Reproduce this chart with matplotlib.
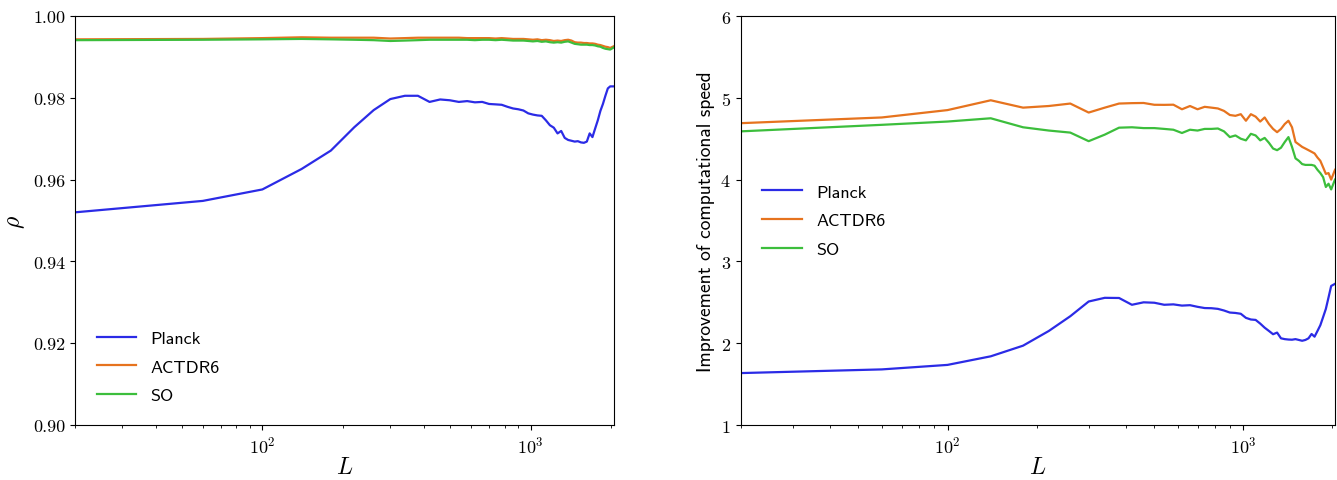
import matplotlib
matplotlib.use('Agg')
import matplotlib.pyplot as plt

plt.rcParams['font.family'] = 'serif'
plt.rcParams['font.serif'] = ['cmr10']
plt.rcParams['mathtext.fontset'] = 'cm'
plt.rcParams['axes.formatter.use_mathtext'] = True

# multipole bins
L = [20, 60, 100, 140, 180, 220, 260, 300, 340, 380,
     420, 460, 500, 540, 580, 620, 660, 700, 740, 780,
     820, 860, 900, 940, 980, 1020, 1060, 1100, 1140, 1180,
     1220, 1260, 1300, 1340, 1380, 1420, 1460, 1500, 1540, 1580,
     1620, 1660, 1700, 1740, 1780, 1820, 1860, 1900, 1940, 1980, 2040]

# correlation coefficient rho
rho_planck = [0.9520, 0.9548, 0.9576, 0.9626, 0.9671, 0.9728, 0.9770, 0.9797, 0.9805, 0.9805,
              0.9790, 0.9796, 0.9794, 0.9790, 0.9792, 0.9789, 0.9790, 0.9785, 0.9784, 0.9783,
              0.9778, 0.9774, 0.9772, 0.9769, 0.9762, 0.9759, 0.9757, 0.9756, 0.9745, 0.9733,
              0.9727, 0.9713, 0.9719, 0.9702, 0.9697, 0.9695, 0.9693, 0.9694, 0.9691, 0.9690,
              0.9693, 0.9713, 0.9704, 0.9725, 0.9745, 0.9768, 0.9785, 0.9805, 0.9823, 0.9828, 0.9828]
rho_act = [0.9943, 0.9944, 0.9946, 0.9948, 0.9947, 0.9947, 0.9947, 0.9945, 0.9946, 0.9947,
           0.9947, 0.9947, 0.9947, 0.9947, 0.9946, 0.9946, 0.9946, 0.9946, 0.9945, 0.9946,
           0.9945, 0.9944, 0.9944, 0.9944, 0.9943, 0.9942, 0.9943, 0.9941, 0.9942, 0.9941,
           0.9939, 0.9940, 0.9939, 0.9941, 0.9942, 0.9940, 0.9936, 0.9935, 0.9935, 0.9934,
           0.9934, 0.9933, 0.9933, 0.9932, 0.9930, 0.9929, 0.9927, 0.9925, 0.9924, 0.9922, 0.9926]
rho_so = [0.9941, 0.9942, 0.9943, 0.9944, 0.9943, 0.9942, 0.9941, 0.9939, 0.9940, 0.9941,
          0.9942, 0.9942, 0.9942, 0.9942, 0.9942, 0.9941, 0.9942, 0.9942, 0.9941, 0.9942,
          0.9941, 0.9940, 0.9940, 0.9940, 0.9939, 0.9938, 0.9939, 0.9937, 0.9938, 0.9936,
          0.9935, 0.9936, 0.9935, 0.9937, 0.9938, 0.9935, 0.9932, 0.9931, 0.9930, 0.9930,
          0.9930, 0.9929, 0.9929, 0.9928, 0.9926, 0.9925, 0.9922, 0.9920, 0.9919, 0.9918, 0.9923]

# speed-up factor
spd_planck = [1.635, 1.68, 1.735, 1.84, 1.97, 2.15, 2.33, 2.51, 2.555, 2.553,
              2.47, 2.50, 2.495, 2.47, 2.475, 2.46, 2.465, 2.445, 2.43, 2.428,
              2.42, 2.40, 2.375, 2.37, 2.36, 2.31, 2.29, 2.285, 2.24, 2.19,
              2.15, 2.11, 2.13, 2.06, 2.05, 2.045, 2.043, 2.05, 2.04, 2.03,
              2.04, 2.06, 2.113, 2.08, 2.15, 2.22, 2.32, 2.42, 2.56, 2.70, 2.726]
spd_act = [4.69, 4.76, 4.85, 4.97, 4.88, 4.90, 4.93, 4.82, 4.88, 4.93,
           4.935, 4.937, 4.915, 4.914, 4.916, 4.86, 4.90, 4.86, 4.89, 4.88,
           4.87, 4.84, 4.79, 4.78, 4.80, 4.72, 4.80, 4.77, 4.71, 4.76,
           4.68, 4.62, 4.58, 4.62, 4.68, 4.72, 4.64, 4.46, 4.43, 4.40,
           4.38, 4.36, 4.34, 4.32, 4.27, 4.23, 4.15, 4.07, 4.08, 4.00, 4.12]
spd_so = [4.59, 4.67, 4.71, 4.75, 4.64, 4.60, 4.575, 4.47, 4.55, 4.635,
          4.64, 4.63, 4.63, 4.62, 4.61, 4.57, 4.61, 4.60, 4.62, 4.62,
          4.625, 4.59, 4.52, 4.54, 4.50, 4.48, 4.56, 4.54, 4.48, 4.51,
          4.45, 4.38, 4.36, 4.39, 4.46, 4.52, 4.40, 4.26, 4.23, 4.19,
          4.18, 4.18, 4.18, 4.17, 4.12, 4.08, 4.03, 3.91, 3.95, 3.88, 4.00]

labels = ['Planck', 'ACTDR6', 'SO']
colors = ['#2b2be6', '#e6731e', '#3cbe3c']

fig = plt.figure(figsize=(13.37, 4.81), dpi=100)
ax1 = fig.add_axes([0.0560, 0.1143, 0.4030, 0.8503])
ax2 = fig.add_axes([0.5540, 0.1143, 0.4445, 0.8503])

for y, lab, c in zip([rho_planck, rho_act, rho_so], labels, colors):
    ax1.plot(L, y, color=c, lw=1.6, label=lab)
for y, lab, c in zip([spd_planck, spd_act, spd_so], labels, colors):
    ax2.plot(L, y, color=c, lw=1.6, label=lab)

ax1.set_ylim(0.90, 1.00)
ax1.set_yticks([0.90, 0.92, 0.94, 0.96, 0.98, 1.00])
ax1.set_yticklabels(['0.90', '0.92', '0.94', '0.96', '0.98', '1.00'])
ax1.set_ylabel(r'$\rho$', fontsize=17)
ax1.legend(loc='lower left', frameon=False, prop={'family': 'cmss10', 'size': 13},
           handlelength=2.2, borderaxespad=0.8, labelspacing=0.72)

ax2.set_ylim(1, 6)
ax2.set_yticks([1, 2, 3, 4, 5, 6])
ax2.set_ylabel('Improvement of computational speed', fontsize=14, family='cmss10')
ax2.legend(loc='center left', frameon=False, prop={'family': 'cmss10', 'size': 13},
           handlelength=2.2, borderaxespad=0.8, labelspacing=0.72)

for ax in (ax1, ax2):
    ax.set_xscale('log')
    ax.set_xlim(L[0], L[-1])
    ax.set_xlabel(r'$L$', fontsize=17, labelpad=0)
    ax.tick_params(labelsize=13)

fig.savefig('out.png', dpi=100)
